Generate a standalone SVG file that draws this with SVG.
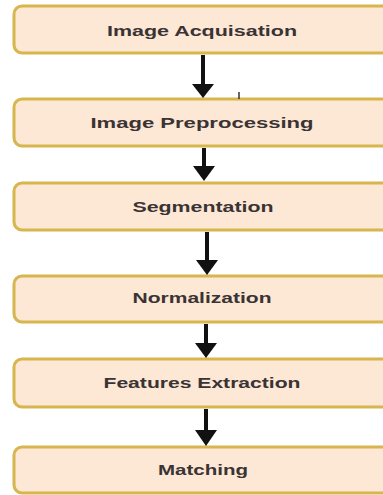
<svg xmlns="http://www.w3.org/2000/svg" width="383" height="495" viewBox="0 0 383 495">
<defs>
<style>
.box{fill:#fde7d5;stroke:#d8b64e;stroke-width:3}
.lbl{font-family:"Liberation Sans",Arial,sans-serif;font-weight:bold;font-size:14px;fill:#3a3333;text-anchor:middle}
.arr{stroke:#111;stroke-width:4;fill:none}
.head{fill:#111}
</style>
</defs>
<rect width="383" height="495" fill="#ffffff"/>
<g id="n1"><rect class="box" x="14" y="6" width="380" height="47" rx="8"/><text class="lbl" x="202" y="36" textLength="190" lengthAdjust="spacingAndGlyphs">Image Acquisation</text></g>
<g id="n2"><rect class="box" x="14" y="99" width="380" height="47" rx="8"/><text class="lbl" x="202" y="128" textLength="223" lengthAdjust="spacingAndGlyphs">Image Preprocessing</text></g>
<g id="n3"><rect class="box" x="14" y="183" width="380" height="47" rx="8"/><text class="lbl" x="203" y="212" textLength="141" lengthAdjust="spacingAndGlyphs">Segmentation</text></g>
<g id="n4"><rect class="box" x="14" y="276" width="380" height="46" rx="8"/><text class="lbl" x="202" y="303" textLength="139" lengthAdjust="spacingAndGlyphs">Normalization</text></g>
<g id="n5"><rect class="box" x="14" y="359" width="380" height="48" rx="8"/><text class="lbl" x="202" y="388" textLength="197" lengthAdjust="spacingAndGlyphs">Features Extraction</text></g>
<g id="n6"><rect class="box" x="14" y="447" width="380" height="46" rx="8"/><text class="lbl" x="203" y="475" textLength="90" lengthAdjust="spacingAndGlyphs">Matching</text></g>
<g id="connectors">
<line class="arr" x1="203" y1="55" x2="203" y2="86"/><polygon class="head" points="192,84 214,84 203,98"/>
<line class="arr" x1="204" y1="148" x2="204" y2="168"/><polygon class="head" points="193,166 215,166 204,181"/>
<line class="arr" x1="207" y1="232" x2="207" y2="262"/><polygon class="head" points="196,260 218,260 207,275"/>
<line class="arr" x1="206" y1="324" x2="206" y2="345"/><polygon class="head" points="195,343 217,343 206,358"/>
<line class="arr" x1="206" y1="409" x2="206" y2="432"/><polygon class="head" points="195,430 217,430 206,446"/>
<line x1="239" y1="92" x2="239" y2="99" stroke="#333" stroke-width="1.5"/>
</g>
</svg>
